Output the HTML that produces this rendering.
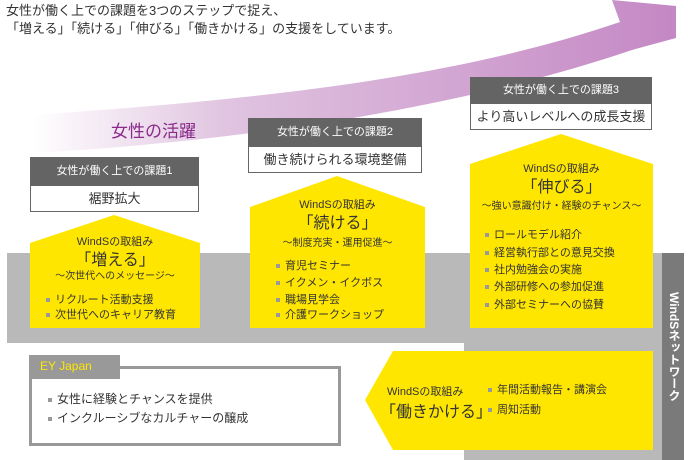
<!DOCTYPE html>
<html><head><meta charset="utf-8"><style>
body{margin:0;width:688px;height:460px;position:relative;overflow:hidden;background:#fff;font-family:"Liberation Sans","Noto Sans CJK JP",sans-serif;color:#333}
.a{position:absolute;white-space:nowrap}
.hd{position:absolute;background:#646464;color:#fff;font-size:11px;text-align:center;box-sizing:border-box}
.wb{position:absolute;background:#fff;border:1px solid #666;border-top:none;font-size:13px;text-align:center;box-sizing:border-box}
.c{text-align:center}
.li{position:absolute;font-size:11px;white-space:nowrap}
.li:before{content:"";display:inline-block;width:4px;height:4px;background:#999;margin-right:5px;vertical-align:middle}
</style></head><body>
<svg width="688" height="460" style="position:absolute;left:0;top:0">
<defs><linearGradient id="g" x1="0" x2="1" y1="0" y2="0"><stop offset="0" stop-color="#fff"/><stop offset="0.3" stop-color="#e0c4e0"/><stop offset="1" stop-color="#c488c4"/></linearGradient></defs>
<path d="M33,115 C250,100 450,80 620,22 L612,0 L676,6 L676,38 L632,50 C470,105 260,140 33,153 Z" fill="url(#g)"/>
<rect x="7" y="253" width="657" height="90" fill="#b9b9b9"/>
<rect x="464" y="330" width="200" height="130" fill="#b9b9b9"/>
<rect x="662" y="253" width="22" height="207" fill="#7a7a7a"/>
<polygon points="30,243 114,215 200,243 200,328 30,328" fill="#ffe600"/>
<polygon points="250,207 337,176 425,207 425,328 250,328" fill="#ffe600"/>
<polygon points="470,164 561,134 653,164 653,328 470,328" fill="#ffe600"/>
<polygon points="393,351 653,351 653,450 393,450 365,400" fill="#ffe600"/>
<rect x="30.5" y="367.5" width="309" height="77" fill="#fff" stroke="#999" stroke-width="3"/>
<rect x="29" y="355" width="91" height="24" fill="#999"/>
</svg>
<div class="a" style="left:6px;top:2px;font-size:13px;line-height:18px">女性が働く上での課題を3つのステップで捉え、<br>「増える」「続ける」「伸びる」「働きかける」の支援をしています。</div>
<div class="a" style="left:111px;top:117px;font-size:17px;color:#8a2a8a">女性の活躍</div>

<div class="hd" style="left:30px;top:157px;width:169px;height:29px;line-height:29px">女性が働く上での課題1</div>
<div class="wb" style="left:30px;top:186px;width:169px;height:26px;line-height:25px">裾野拡大</div>
<div class="hd" style="left:248px;top:118px;width:174px;height:29px;line-height:29px">女性が働く上での課題2</div>
<div class="wb" style="left:248px;top:147px;width:174px;height:26px;line-height:25px">働き続けられる環境整備</div>
<div class="hd" style="left:470px;top:77px;width:182px;height:27px;line-height:27px">女性が働く上での課題3</div>
<div class="wb" style="left:470px;top:104px;width:182px;height:26px;line-height:25px">より高いレベルへの成長支援</div>

<div class="a c" style="left:30px;width:170px;top:233px;font-size:11px">WindSの取組み</div>
<div class="a c" style="left:30px;width:170px;top:246px;font-size:16px">「増える」</div>
<div class="a c" style="left:30px;width:170px;top:267px;font-size:10px">～次世代へのメッセージ～</div>
<div class="li" style="left:46px;top:291px">リクルート活動支援</div>
<div class="li" style="left:46px;top:306px">次世代へのキャリア教育</div>

<div class="a c" style="left:250px;width:175px;top:196px;font-size:11px">WindSの取組み</div>
<div class="a c" style="left:250px;width:175px;top:209px;font-size:16px">「続ける」</div>
<div class="a c" style="left:250px;width:175px;top:234px;font-size:10px">～制度充実・運用促進～</div>
<div class="li" style="left:276px;top:257px">育児セミナー</div>
<div class="li" style="left:276px;top:274px">イクメン・イクボス</div>
<div class="li" style="left:276px;top:291px">職場見学会</div>
<div class="li" style="left:276px;top:306px">介護ワークショップ</div>

<div class="a c" style="left:470px;width:183px;top:160px;font-size:11px">WindSの取組み</div>
<div class="a c" style="left:470px;width:183px;top:173px;font-size:16px">「伸びる」</div>
<div class="a c" style="left:470px;width:183px;top:197px;font-size:10px">～強い意識付け・経験のチャンス～</div>
<div class="li" style="left:485px;top:226px">ロールモデル紹介</div>
<div class="li" style="left:485px;top:244px">経営執行部との意見交換</div>
<div class="li" style="left:485px;top:261px">社内勉強会の実施</div>
<div class="li" style="left:485px;top:278px">外部研修への参加促進</div>
<div class="li" style="left:485px;top:296px">外部セミナーへの協賛</div>

<div class="a" style="left:387px;top:383px;font-size:11px">WindSの取組み</div>
<div class="a" style="left:380px;top:398px;font-size:16px">「働きかける」</div>
<div class="li" style="left:488px;top:381px">年間活動報告・講演会</div>
<div class="li" style="left:488px;top:401px">周知活動</div>

<div class="a" style="left:40px;top:359px;font-size:12px;color:#ffe600">EY Japan</div>
<div class="li" style="left:48px;top:390px;font-size:12px">女性に経験とチャンスを提供</div>
<div class="li" style="left:48px;top:409px;font-size:12px">インクルーシブなカルチャーの醸成</div>

<div class="a" style="left:666px;top:292px;font-size:12px;color:#fff;font-weight:bold;writing-mode:vertical-rl">WindSネットワーク</div>
</body></html>
